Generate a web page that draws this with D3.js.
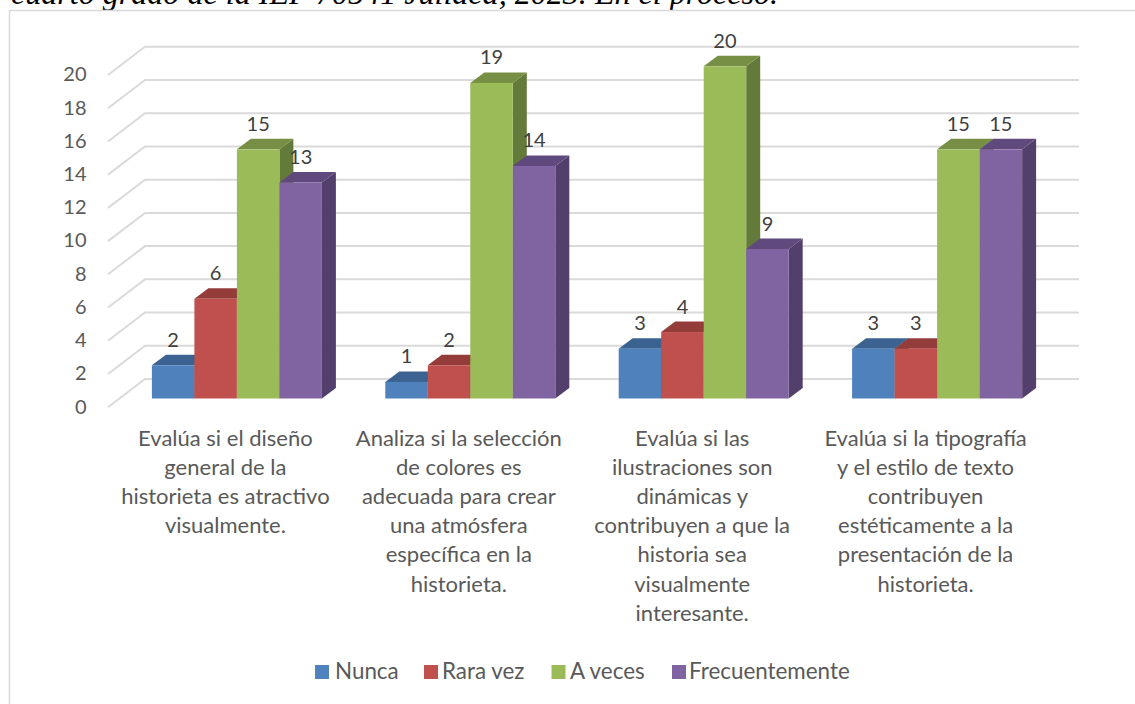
<!DOCTYPE html>
<html><head><meta charset="utf-8">
<script src="https://cdn.jsdelivr.net/npm/d3@7"></script>
<style>
html,body{margin:0;padding:0;background:#fff;overflow:hidden}
text{font-family:Lato,"Open Sans",sans-serif}
</style></head><body>
<svg id="c" width="1135" height="704"></svg>
<script>
const categories=[
 ["Evalúa si el diseño","general de la","historieta es atractivo","visualmente."],
 ["Analiza si la selección","de colores es","adecuada para crear","una atmósfera","específica en la","historieta."],
 ["Evalúa si las","ilustraciones son","dinámicas y","contribuyen a que la","historia sea","visualmente","interesante."],
 ["Evalúa si la tipografía","y el estilo de texto","contribuyen","estéticamente a la","presentación de la","historieta."]
];
const seriesNames=["Nunca","Rara vez","A veces","Frecuentemente"];
const nunca=[2,1,3,3];
const raraVez=[6,2,4,3];
const aVeces=[15,19,20,15];
const frecuentemente=[13,14,9,15];
const seriesValues=[nunca,raraVez,aVeces,frecuentemente];
const colors=["#4f81bd","#c0504d","#9bbb59","#8064a2"];
const topColors=["#3c6291","#943c3a","#778f44","#60497c"];
const sideColors=["#2f4d72","#7a3230","#647a3a","#533f6b"];
const yTicks=[0,2,4,6,8,10,12,14,16,18,20];
const titleText="cuarto grado de la IEP 70541 Juliaca, 2023. En el proceso.";

const svg=d3.select("#c");
const txt="#595959";
const y=d3.scaleLinear().domain([0,20]).range([398.5,66.3]);
const x0=d3.scaleBand().domain(d3.range(categories.length)).range([120.2,1053.8]).paddingInner(0.2716).paddingOuter(0.1358);
const x1=d3.scaleBand().domain(d3.range(seriesNames.length)).range([0,x0.bandwidth()]);
const barDx=14,barDy=-10.5;

svg.append("text").text(titleText).attr("x",11).attr("y",4)
 .style("font-family","'Liberation Serif',serif").style("font-style","italic").style("font-size","32.1px").attr("fill","#000");
svg.append("rect").attr("x",9.5).attr("y",10.5).attr("width",1135).attr("height",720).attr("fill","#fff").attr("stroke","#d9d9d9").attr("stroke-width",1.5);

const g=svg.append("g");
yTicks.forEach(t=>{
  const p=d3.path();
  p.moveTo(108,y(t)+8.7);p.lineTo(145,y(t)-19.5);p.lineTo(1079,y(t)-19.5);
  g.append("path").attr("d",p.toString()).attr("fill","none").attr("stroke","#dadada").attr("stroke-width",2);
  g.append("text").text(t).attr("x",86.5).attr("y",y(t)+15).attr("text-anchor","end").attr("font-size",20).attr("fill",txt);
});

categories.forEach((c,ci)=>{
  seriesValues.forEach((vals,si)=>{
    const v=vals[ci],l=x0(ci)+x1(si),r=l+x1.bandwidth(),t=y(v),b=y(0);
    const top=d3.path();top.moveTo(l,t);top.lineTo(l+barDx,t+barDy);top.lineTo(r+barDx,t+barDy);top.lineTo(r,t);top.closePath();
    const side=d3.path();side.moveTo(r,t);side.lineTo(r+barDx,t+barDy);side.lineTo(r+barDx,b+barDy);side.lineTo(r,b);side.closePath();
    g.append("path").attr("d",side.toString()).attr("fill",sideColors[si]);
    g.append("path").attr("d",top.toString()).attr("fill",topColors[si]);
    g.append("rect").attr("x",l).attr("y",t).attr("width",r-l).attr("height",b-t).attr("fill",colors[si]);
  });
});
categories.forEach((c,ci)=>{
  seriesValues.forEach((vals,si)=>{
    const v=vals[ci],cx=x0(ci)+x1(si)+x1.bandwidth()/2;
    g.append("text").text(v).attr("x",cx).attr("y",y(v)-18.5).attr("text-anchor","middle").attr("font-size",20).attr("fill","#404040");
  });
  const t=g.append("text").attr("text-anchor","middle").attr("font-size",22).attr("fill",txt);
  c.forEach((ln,i)=>t.append("tspan").attr("x",x0(ci)+x0.bandwidth()/2-11.5).attr("y",445.5+i*29.2).text(ln));
});
seriesNames.forEach((n,i)=>{
  g.append("rect").attr("x",[315,424,551.5,672][i]).attr("y",665).attr("width",14).attr("height",14).attr("fill",colors[i]);
  g.append("text").text(n).attr("x",[335,442,570,689][i]).attr("y",679).attr("font-size",22.4).attr("fill",txt);
});
</script></body></html>
